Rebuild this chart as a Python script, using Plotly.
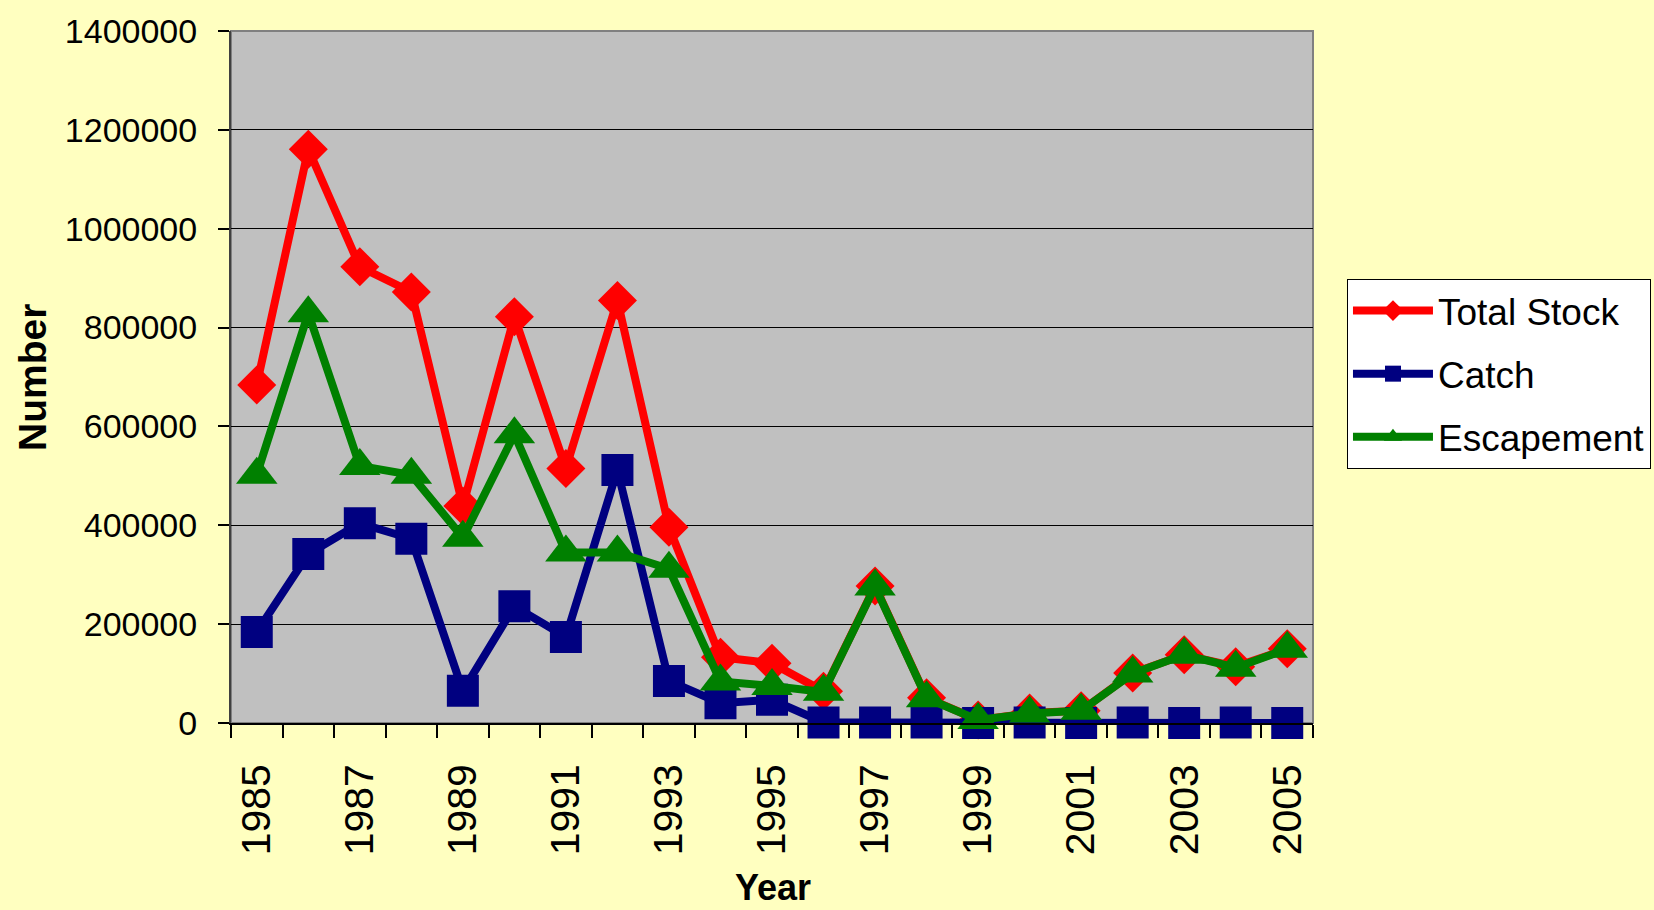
import plotly.graph_objects as go

years = list(range(1985, 2006))
total_stock = [684000, 1161000, 923000, 872000, 439000, 822000, 515000, 855000, 396000,
               133000, 121000, 64000, 277000, 51000, 6000, 20000, 25000, 101000, 138000,
               114000, 150000]
catch = [184000, 342000, 404000, 373000, 65000, 236000, 174000, 512000, 85000,
         40000, 47000, 1000, 1000, 1000, 0, 1000, 0, 1000, 0, 1000, 0]
escapement = [502000, 829000, 520000, 502000, 375000, 584000, 345000, 345000, 312000,
              84000, 75000, 63000, 276000, 50000, 6000, 19000, 25000, 100000, 138000,
              112000, 150000]
label_years = [y for y in years if (y - 1985) % 2 == 0]
y_ticks = list(range(0, 1400001, 200000))

FONT = "Arial, Liberation Sans, sans-serif"

fig = go.Figure()
series = [
    ("Total Stock", total_stock, "#FF0000", "diamond", 30),
    ("Catch", catch, "#000080", "square", 32),
    ("Escapement", escapement, "#008000", "triangle-up", 36),
]
for name, vals, col, sym, sz in series:
    fig.add_trace(go.Scatter(
        x=years, y=vals, name=name, mode="lines+markers",
        line=dict(color=col, width=8),
        marker=dict(symbol=sym, size=sz, color=col, line=dict(width=0)),
        cliponaxis=False, legendgroup=name,
    ))

fig.update_layout(
    width=1654, height=910,
    margin=dict(l=231, r=341, t=31, b=187, autoexpand=False),
    paper_bgcolor="#FFFFC0",
    plot_bgcolor="#C0C0C0",
    font=dict(family=FONT, color="black", size=34),
    showlegend=True,
    legend=dict(
        x=1.0314, y=0.6416, xanchor="left", yanchor="top",
        bgcolor="white", bordercolor="black", borderwidth=1,
        font=dict(size=37, family=FONT), tracegroupgap=12,
        itemsizing="trace", itemwidth=80,
    ),
    xaxis=dict(
        range=[1984.5, 2005.5],
        tickmode="array", tickvals=label_years, ticktext=[str(y) for y in label_years],
        tickangle=-90, tickfont=dict(size=41, family=FONT),
        ticks="outside", ticklen=13, tickcolor="rgba(0,0,0,0)",
        ticklabelstandoff=10,
        showgrid=False, zeroline=False,
        showline=True, linecolor="black", linewidth=1.5,
        minor=dict(tickmode="array", tickvals=[y - 0.5 for y in years] + [years[-1] + 0.5],
                   ticks="outside", ticklen=13, tickcolor="black", tickwidth=1.5,
                   showgrid=False),
    ),
    yaxis=dict(
        range=[0, 1400000], tickmode="array", tickvals=y_ticks,
        ticktext=[str(v) for v in y_ticks],
        tickfont=dict(size=34, family=FONT),
        ticks="outside", ticklen=11, tickcolor="black", tickwidth=1.5,
        ticklabelstandoff=14,
        showgrid=True, gridcolor="black", gridwidth=1,
        zeroline=False,
        showline=True, linecolor="#404040", linewidth=2,
    ),
    shapes=[dict(type="rect", xref="paper", yref="paper", x0=0, x1=1, y0=0, y1=1,
                 line=dict(color="#808080", width=2), layer="below")],
    annotations=[
        dict(text="<b>Number</b>", xref="paper", yref="paper", x=-0.184, y=0.5,
             textangle=-90, showarrow=False, font=dict(size=39, family=FONT),
             xanchor="center", yanchor="middle"),
        dict(text="<b>Year</b>", xref="paper", yref="paper", x=0.501, y=-0.238,
             showarrow=False, font=dict(size=36, family=FONT),
             xanchor="center", yanchor="middle"),
    ],
)

fig.write_html("out.html", config={"displayModeBar": False},
               post_script="document.body.style.margin='0';")
